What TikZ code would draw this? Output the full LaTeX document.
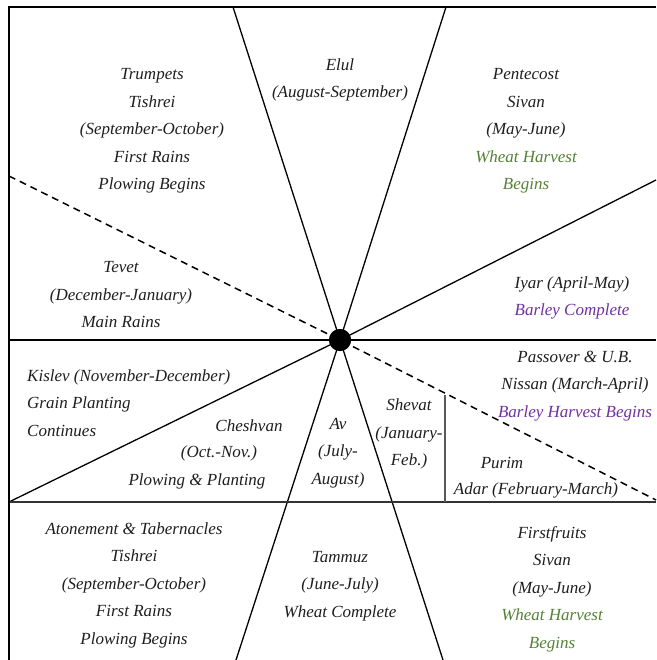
\documentclass[tikz,border=0pt]{standalone}
\usepackage{fontspec}
\setmainfont{Liberation Serif}
\definecolor{wgreen}{HTML}{548235}
\definecolor{bpurple}{HTML}{7030A0}
\definecolor{txt}{HTML}{1E1E1E}
\begin{document}
\begin{tikzpicture}[x=1pt,y=-1pt,
  lbl/.style={font=\itshape\fontsize{17}{27.5}\selectfont, align=center, inner sep=0pt, text=txt},
  radial/.style={line width=1.3pt},
  dashline/.style={line width=1.5pt, dash pattern=on 7pt off 5pt},
  frameline/.style={line width=2.6pt},
  hub/.style={circle, fill=black, minimum size=22pt, inner sep=0pt}]
\useasboundingbox (0,0) rectangle (656,660);
% coordinates
\coordinate (TL) at (9,7);
\coordinate (TR) at (656,7);
\coordinate (BL) at (9,660);
\coordinate (t1) at (233,7);
\coordinate (b1) at (443,660);
\coordinate (t2) at (446,7);
\coordinate (b2) at (236,660);
\coordinate (r1) at (656,180);
\coordinate (l1) at (9,502);
\coordinate (dl) at (9,176);
\coordinate (dr) at (656,500);
\coordinate (hl) at (9,340);
\coordinate (hr) at (656,340);
\coordinate (h2l) at (9,502);
\coordinate (h2r) at (656,502);
\coordinate (g1) at (445,395);
\coordinate (g2) at (445,502);
\node[hub] (c) at (340,340) {};
% lines
\draw[radial] (t1) -- (c.center) -- (b1);
\draw[radial] (t2) -- (c.center) -- (b2);
\draw[radial] (l1) -- (c.center) -- (r1);
\draw[radial] (hl) -- (hr);
\draw[line width=1.5pt, black!80] (h2l) -- (h2r);
\draw[line width=1.6pt, black!65] (g1) -- (g2);
\draw[dashline] (dl) -- (c.center) -- (dr);
\draw[frameline] (BL) -- (TL) -- (TR);
\node[hub] at (c.center) {};
% labels
\node[lbl] (trumpets) at (152,131) {Trumpets\\Tishrei\\(September-October)\\First Rains\\Plowing Begins};
\node[lbl] (elul) at (340,80) {Elul\\(August-September)};
\node[lbl] (pentecost) at (526,131) {Pentecost\\Sivan\\(May-June)\\\textcolor{wgreen}{Wheat Harvest}\\\textcolor{wgreen}{Begins}};
\node[lbl] (tevet) at (121,295) {Tevet\\(December-January)\\Main Rains};
\node[lbl] (iyar) at (572,298) {Iyar (April-May)\\\textcolor{bpurple}{Barley Complete}};
\node[lbl, align=left, anchor=west] (kislev) at (27,403) {Kislev (November-December)\\Grain Planting\\Continues};
\node[lbl] (passover) at (575,386) {Passover \& U.B.\\Nissan (March-April)\\\textcolor{bpurple}{Barley Harvest Begins}};
\node[lbl] (cheshvan1) at (249,426) {Cheshvan};
\node[lbl] (cheshvan2) at (219,453) {(Oct.-Nov.)};
\node[lbl] (cheshvan3) at (197,481) {Plowing \& Planting};
\node[lbl] (av) at (338,453) {Av\\(July-\\August)};
\node[lbl] (shevat) at (409,434) {Shevat\\(January-\\Feb.)};
\node[lbl] (purim) at (502,463) {Purim};
\node[lbl] (adar) at (536,490) {Adar (February-March)};
\node[lbl] (atonement) at (134,585) {Atonement \& Tabernacles\\Tishrei\\(September-October)\\First Rains\\Plowing Begins};
\node[lbl] (tammuz) at (340,586) {Tammuz\\(June-July)\\Wheat Complete};
\node[lbl] (firstfruits) at (552,589) {Firstfruits\\Sivan\\(May-June)\\\textcolor{wgreen}{Wheat Harvest}\\\textcolor{wgreen}{Begins}};
\end{tikzpicture}
\end{document}
